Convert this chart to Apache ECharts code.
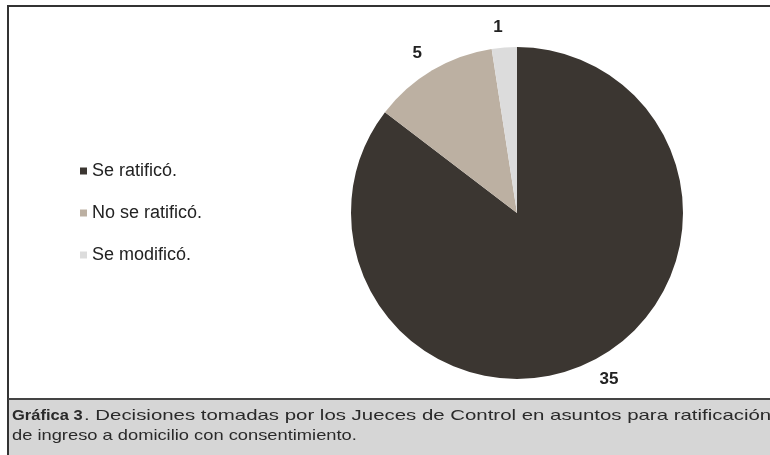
<!DOCTYPE html>
<html><head><meta charset="utf-8">
<script src="https://cdn.jsdelivr.net/npm/echarts@6/dist/echarts.min.js"></script>
<style>html,body{margin:0;padding:0;background:#fff}#c{width:770px;height:455px}</style>
</head><body><div id="c"></div>
<script>
const categories = ['Se ratificó.', 'No se ratificó.', 'Se modificó.'];
const values = [35, 5, 1];
const colors = ['#3b3631', '#bcb0a2', '#dcdcdc'];
const captionBold = 'Gráfica 3';
const captionLine1 = '. Decisiones tomadas por los Jueces de Control en asuntos para ratificación';
const captionLine2 = 'de ingreso a domicilio con consentimiento.';

const capFont = {fontFamily: 'Liberation Sans', fontSize: 15, fill: '#2a2a2a'};
const chart = echarts.init(document.getElementById('c'), null, {renderer: 'canvas'});
chart.setOption({
  animation: false,
  backgroundColor: '#ffffff',
  color: colors,
  legend: {
    orient: 'vertical', left: 75, top: 157,
    itemWidth: 7, itemHeight: 7, itemGap: 24, icon: 'rect',
    textStyle: {fontFamily: 'Liberation Sans', fontSize: 18, color: '#222', padding: [0,0,0,0]},
    data: categories
  },
  graphic: [
    {type: 'rect', z: -1, shape: {x: 8, y: 399, width: 762, height: 56}, style: {fill: '#d6d6d6'}},
    {type: 'line', shape: {x1: 8, y1: 6, x2: 770, y2: 6}, style: {stroke: '#333', lineWidth: 2}},
    {type: 'line', shape: {x1: 8, y1: 5, x2: 8, y2: 455}, style: {stroke: '#333', lineWidth: 2}},
    {type: 'line', shape: {x1: 8, y1: 399, x2: 770, y2: 399}, style: {stroke: '#444', lineWidth: 2}},
    {type: 'text', x: 12, y: 408, scaleX: 1.1,
      style: Object.assign({text: captionBold, fontWeight: 'bold'}, capFont)},
    {type: 'text', x: 84, y: 408, scaleX: 1.36,
      style: Object.assign({text: captionLine1, fontWeight: 'normal'}, capFont)},
    {type: 'text', x: 12, y: 428, scaleX: 1.22,
      style: Object.assign({text: captionLine2, fontWeight: 'normal'}, capFont)}
  ],
  series: [{
    type: 'pie',
    center: [517, 213],
    radius: 166,
    startAngle: 90,
    clockwise: true,
    data: categories.map((c, i) => ({name: c, value: values[i]})),
    label: {
      show: true, position: 'outside', formatter: '{c}',
      fontFamily: 'Liberation Sans', fontSize: 17, fontWeight: 'bold', color: '#222',
      distanceToLabelLine: 0
    },
    labelLine: {show: false, length: 20, length2: 0},
    itemStyle: {borderColor: '#fff', borderWidth: 0}
  }]
});
</script></body></html>
